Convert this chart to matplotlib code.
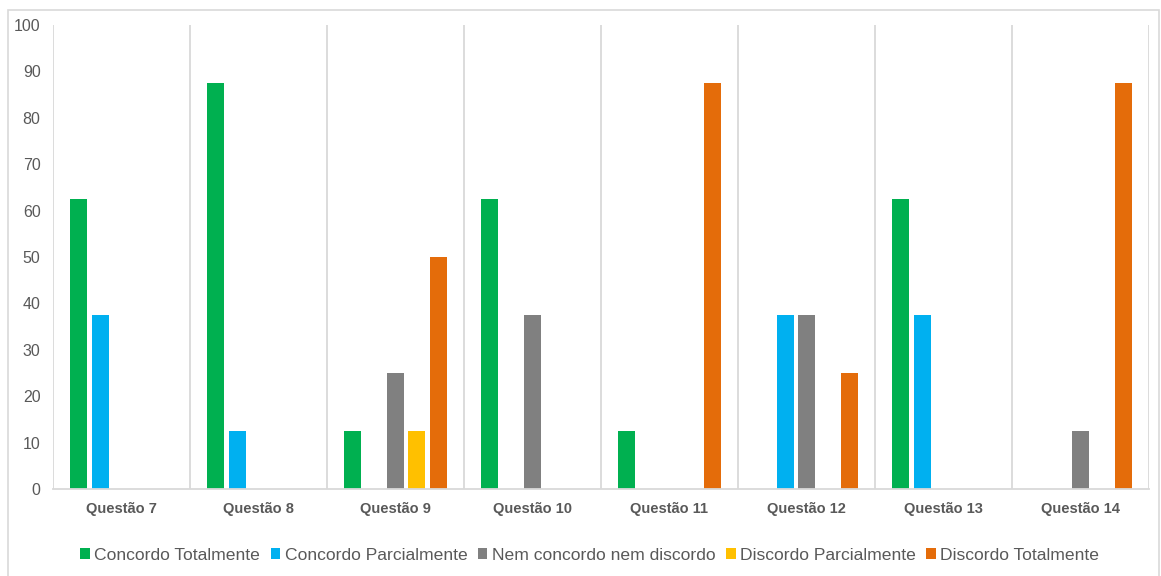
import matplotlib
matplotlib.use("Agg")
import matplotlib.pyplot as plt
import numpy as np
from matplotlib.patches import Rectangle

categories = ["Questão 7", "Questão 8", "Questão 9", "Questão 10",
              "Questão 11", "Questão 12", "Questão 13", "Questão 14"]
series_names = ["Concordo Totalmente", "Concordo Parcialmente",
                "Nem concordo nem discordo", "Discordo Parcialmente",
                "Discordo Totalmente"]
concordo_totalmente = [62.5, 87.5, 12.5, 62.5, 12.5, 0, 62.5, 0]
concordo_parcialmente = [37.5, 12.5, 0, 0, 0, 37.5, 37.5, 0]
nem_concordo = [0, 0, 25, 37.5, 0, 37.5, 0, 12.5]
discordo_parcialmente = [0, 0, 12.5, 0, 0, 0, 0, 0]
discordo_totalmente = [0, 0, 50, 0, 87.5, 25, 0, 87.5]
yticks = [0, 10, 20, 30, 40, 50, 60, 70, 80, 90, 100]

series = [concordo_totalmente, concordo_parcialmente, nem_concordo,
          discordo_parcialmente, discordo_totalmente]
colors = ["#00B050", "#00B0F0", "#808080", "#FFC000", "#E46C0A"]

plt.rcParams['font.family'] = ['Liberation Sans', 'DejaVu Sans']

fig = plt.figure(figsize=(11.61, 5.76), dpi=100)
ax = fig.add_axes([53/1161, 1-489/576, (1149-53)/1161, (489-25)/576])

x = np.arange(len(categories))
spacing = 0.1555
width = 0.124
for i, (vals, name, c) in enumerate(zip(series, series_names, colors)):
    ax.bar(x + (i-2)*spacing, vals, width=width, color=c, label=name, zorder=3)

ax.set_xlim(-0.5, len(categories)-0.5)
ax.set_ylim(0, 100)
ax.set_yticks(yticks)
ax.set_yticklabels([str(t) for t in yticks], fontsize=11.5, color="#595959")
ax.set_xticks(x)
ax.set_xticklabels(categories, fontsize=10.5, fontweight="bold", color="#595959")
ax.tick_params(axis='y', length=0, pad=9)
ax.tick_params(axis='x', length=0, pad=9)

for b in np.arange(len(categories)+1) - 0.5:
    ax.axvline(b, color="#D9D9D9", linewidth=1.3, zorder=1)

for s in ["top", "right", "left"]:
    ax.spines[s].set_visible(False)
ax.spines["bottom"].set_color("#D9D9D9")
ax.spines["bottom"].set_linewidth(1.3)
ax.spines["bottom"].set_zorder(4)

leg = fig.legend(loc="center", bbox_to_anchor=(0.508, 1-555/576), ncol=5,
                 frameon=False, fontsize=12.6, handlelength=0.55, handleheight=0.55,
                 handletextpad=0.25, columnspacing=0.6, labelcolor="#595959")

fig.patches.append(Rectangle((8/1161, -0.02), (1159-8)/1161, 1.02-10/576,
                             transform=fig.transFigure, fill=False,
                             edgecolor="#D9D9D9", linewidth=1.2))

fig.savefig("out.png", dpi=100)
